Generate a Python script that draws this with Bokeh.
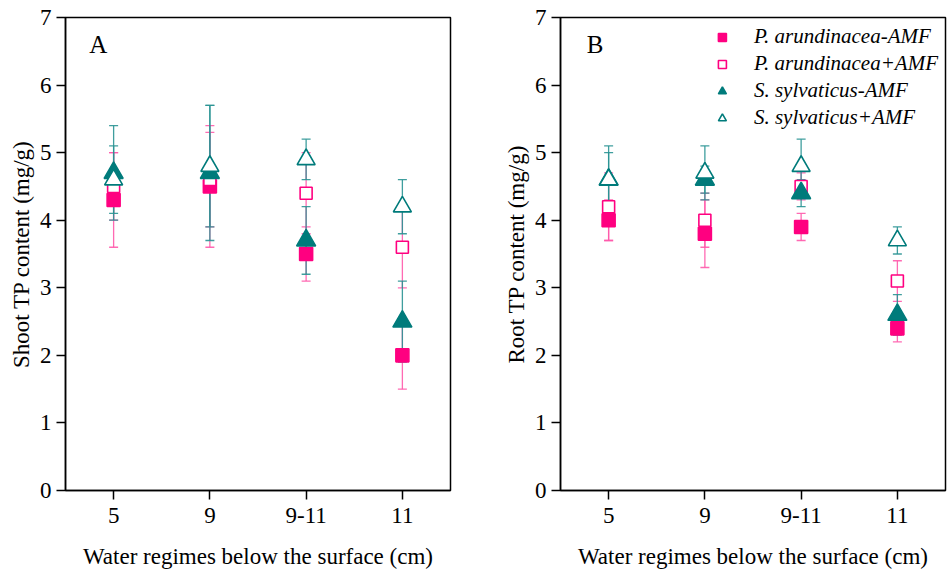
from bokeh.plotting import figure
from bokeh.layouts import row
from bokeh.models import ColumnDataSource, Whisker, TeeHead, Legend, LegendItem, Label, FixedTicker
from bokeh.embed import file_html
from bokeh.resources import INLINE

# ---- data ----
regimes = ["5", "9", "9-11", "11"]
series_names = ["P. arundinacea-AMF", "P. arundinacea+AMF", "S. sylvaticus-AMF", "S. sylvaticus+AMF"]

shoot_pa_minus = [4.3, 4.5, 3.5, 2.0]
shoot_pa_minus_err = [0.7, 0.9, 0.4, 0.5]
shoot_pa_plus = [4.5, 4.6, 4.4, 3.6]
shoot_pa_plus_err = [0.5, 0.7, 0.6, 0.6]
shoot_ss_minus = [4.7, 4.7, 3.7, 2.5]
shoot_ss_minus_err = [0.7, 1.0, 0.5, 0.6]
shoot_ss_plus = [4.6, 4.8, 4.9, 4.2]
shoot_ss_plus_err = [0.5, 0.9, 0.3, 0.4]

root_pa_minus = [4.0, 3.8, 3.9, 2.4]
root_pa_minus_err = [0.3, 0.5, 0.2, 0.2]
root_pa_plus = [4.2, 4.0, 4.5, 3.1]
root_pa_plus_err = [0.5, 0.4, 0.2, 0.3]
root_ss_minus = [4.6, 4.6, 4.4, 2.6]
root_ss_minus_err = [0.5, 0.2, 0.2, 0.3]
root_ss_plus = [4.6, 4.7, 4.8, 3.7]
root_ss_plus_err = [0.4, 0.4, 0.4, 0.2]

y_ticks = [0, 1, 2, 3, 4, 5, 6, 7]

PINK = "#ff0080"
PINK_BAR = "#ff5aab"
TEAL = "#007b7b"
TEAL_BAR = "#2a9494"
FONT = "Liberation Serif"

styles = [
    dict(marker="square", fill=PINK, line=PINK, bar=PINK_BAR, size=13),
    dict(marker="square", fill="white", line=PINK, bar=PINK_BAR, size=12),
    dict(marker="triangle", fill=TEAL, line=TEAL, bar=TEAL_BAR, size=19),
    dict(marker="triangle", fill="white", line=TEAL, bar=TEAL_BAR, size=18),
]


def make_panel(ylabel, data, letter, letter_x, legend, border_right):
    p = figure(x_range=regimes, y_range=(0, 7), frame_width=385, frame_height=473,
               min_border_left=65, min_border_right=border_right, min_border_top=17,
               min_border_bottom=80, output_backend="svg", toolbar_location=None,
               background_fill_color="white", border_fill_color="white")
    p.xgrid.visible = False
    p.ygrid.visible = False
    p.outline_line_color = "black"
    p.outline_line_width = 1.5
    p.outline_line_alpha = 1.0
    p.yaxis.ticker = FixedTicker(ticks=y_ticks)
    for ax in (p.xaxis[0], p.yaxis[0]):
        ax.axis_line_color = "black"
        ax.axis_line_width = 1.5
        ax.major_tick_line_color = "black"
        ax.major_tick_line_width = 1.5
        ax.major_tick_out = 9
        ax.major_tick_in = 0
        ax.minor_tick_line_color = None
        ax.major_label_text_font = FONT
        ax.major_label_text_font_size = "23px"
        ax.major_label_text_color = "black"
        ax.axis_label_text_font = FONT
        ax.axis_label_text_font_size = "23px"
        ax.axis_label_text_font_style = "normal"
        ax.axis_label_text_color = "black"
        ax.major_label_standoff = 5
    p.xaxis.major_label_standoff = 8
    p.xaxis.axis_label = "Water regimes below the surface (cm)"
    p.xaxis.axis_label_standoff = 18
    p.yaxis.axis_label = ylabel
    p.yaxis.axis_label_standoff = 3

    # error bars first
    sources = []
    for (vals, errs), st in zip(data, styles):
        src = ColumnDataSource(dict(
            x=regimes, y=vals,
            upper=[v + e for v, e in zip(vals, errs)],
            lower=[v - e for v, e in zip(vals, errs)]))
        w = Whisker(base="x", upper="upper", lower="lower", source=src,
                    line_color=st["bar"], line_width=1.3, line_alpha=0.9,
                    upper_head=TeeHead(size=9, line_color=st["bar"], line_width=1.3, line_alpha=0.9),
                    lower_head=TeeHead(size=9, line_color=st["bar"], line_width=1.3, line_alpha=0.9))
        p.add_layout(w)
        sources.append(src)
    scatters = []
    for src, st in zip(sources, styles):
        r = p.scatter("x", "y", source=src, marker=st["marker"], size=st["size"],
                      fill_color=st["fill"], line_color=st["line"], line_width=1.6)
        scatters.append(r)

    p.add_layout(Label(x=letter_x, y=6.6, text=letter, text_font=FONT, text_font_size="25px",
                       text_align="center", text_baseline="middle", text_color="black"))

    if legend:
        items = [LegendItem(label=n, renderers=[r]) for n, r in zip(series_names, scatters)]
        lg = Legend(items=items, location="top_right", margin=7, padding=6,
                    border_line_color=None, background_fill_alpha=0,
                    label_text_font=FONT, label_text_font_style="italic",
                    label_text_font_size="21px", label_text_color="black",
                    glyph_width=20, glyph_height=20, label_height=20,
                    label_standoff=22, spacing=2)
        p.add_layout(lg)
    return p


shoot = [(shoot_pa_minus, shoot_pa_minus_err), (shoot_pa_plus, shoot_pa_plus_err),
         (shoot_ss_minus, shoot_ss_minus_err), (shoot_ss_plus, shoot_ss_plus_err)]
root = [(root_pa_minus, root_pa_minus_err), (root_pa_plus, root_pa_plus_err),
        (root_ss_minus, root_ss_minus_err), (root_ss_plus, root_ss_plus_err)]

p1 = make_panel("Shoot TP content (mg/g)", shoot, "A", 0.34, False, 45)
p2 = make_panel("Root TP content (mg/g)", root, "B", 0.36, True, 3)

layout = row(p1, p2)
open("out.html", "w").write(file_html(layout, INLINE))
